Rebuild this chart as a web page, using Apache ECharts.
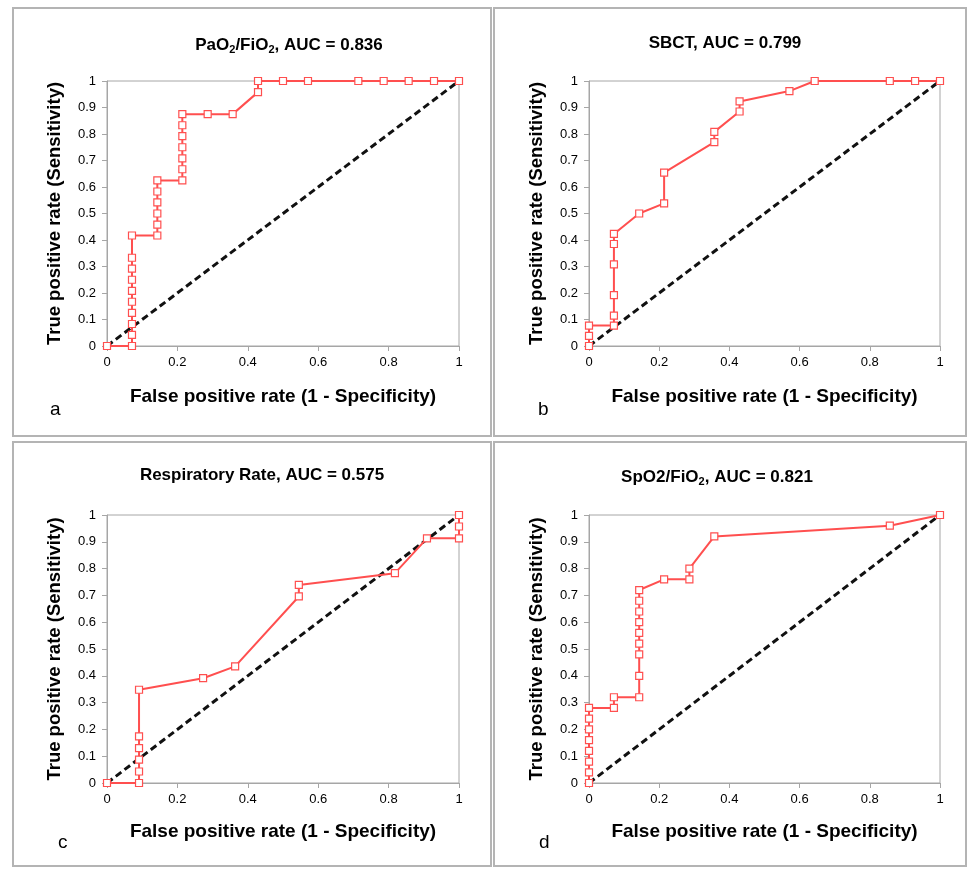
<!DOCTYPE html>
<html>
<head>
<meta charset="utf-8">
<script src="https://cdn.jsdelivr.net/npm/echarts@6/dist/echarts.min.js"></script>
<style>
html, body { margin: 0; padding: 0; background: #fff; }
#main { width: 968px; height: 869px; }
</style>
</head>
<body>
<div id="main"></div>
<script>
// ROC points, panel by panel
var fprA = [0, 0.071, 0.071, 0.071, 0.071, 0.071, 0.071, 0.071, 0.071, 0.071, 0.071, 0.143, 0.143, 0.143, 0.143, 0.143, 0.143, 0.214, 0.214, 0.214, 0.214, 0.214, 0.214, 0.214, 0.286, 0.357, 0.429, 0.429, 0.5, 0.571, 0.714, 0.786, 0.857, 0.929, 1];
var tprA = [0, 0, 0.042, 0.083, 0.125, 0.167, 0.208, 0.25, 0.292, 0.333, 0.417, 0.417, 0.458, 0.5, 0.542, 0.583, 0.625, 0.625, 0.667, 0.708, 0.75, 0.792, 0.833, 0.875, 0.875, 0.875, 0.958, 1, 1, 1, 1, 1, 1, 1, 1];

var fprB = [0, 0, 0, 0.071, 0.071, 0.071, 0.071, 0.071, 0.071, 0.143, 0.214, 0.214, 0.357, 0.357, 0.429, 0.429, 0.571, 0.643, 0.857, 0.929, 1];
var tprB = [0, 0.038, 0.077, 0.077, 0.115, 0.192, 0.308, 0.385, 0.423, 0.5, 0.538, 0.654, 0.769, 0.808, 0.885, 0.923, 0.962, 1, 1, 1, 1];

var fprC = [0, 0.091, 0.091, 0.091, 0.091, 0.091, 0.091, 0.273, 0.364, 0.545, 0.545, 0.818, 0.909, 1, 1, 1];
var tprC = [0, 0, 0.043, 0.087, 0.13, 0.174, 0.348, 0.391, 0.435, 0.696, 0.739, 0.783, 0.913, 0.913, 0.957, 1];

var fprD = [0, 0, 0, 0, 0, 0, 0, 0, 0.071, 0.071, 0.143, 0.143, 0.143, 0.143, 0.143, 0.143, 0.143, 0.143, 0.143, 0.214, 0.286, 0.286, 0.357, 0.857, 1];
var tprD = [0, 0.04, 0.08, 0.12, 0.16, 0.2, 0.24, 0.28, 0.28, 0.32, 0.32, 0.4, 0.48, 0.52, 0.56, 0.6, 0.64, 0.68, 0.72, 0.76, 0.76, 0.8, 0.92, 0.96, 1];

var titles = ['PaO{s|2}/FiO{s|2}, AUC = 0.836', 'SBCT, AUC = 0.799', 'Respiratory Rate, AUC = 0.575', 'SpO2/FiO{s|2}, AUC = 0.821'];
var letters = ['a', 'b', 'c', 'd'];
var xName = 'False positive rate (1 - Specificity)';
var yName = 'True positive rate (Sensitivity)';

var fpr = [fprA, fprB, fprC, fprD];
var tpr = [tprA, tprB, tprC, tprD];

var font = "'Liberation Sans', sans-serif";
var red = '#ff4f4f';
var gray = '#a6a6a6';

// panel layout
var grids = [
    {left: 107, top: 81, width: 352, height: 265},
    {left: 589, top: 81, width: 351, height: 265},
    {left: 107, top: 515, width: 352, height: 268},
    {left: 589, top: 515, width: 351, height: 268}
];
var boxes = [[13, 8, 478, 428], [494, 8, 472, 428], [13, 442, 478, 424], [494, 442, 472, 424]];
var titlePos = [[284, 30], [720, 30], [257, 462], [712, 462]];
var letterPos = [[50, 400], [538, 400], [58, 833], [539, 833]];

function zip(xs, ys) {
    var out = [];
    for (var i = 0; i < xs.length; i++) out.push([xs[i], ys[i]]);
    return out;
}

var option = {
    backgroundColor: '#fff',
    animation: false,
    title: [],
    grid: [],
    xAxis: [],
    yAxis: [],
    series: [],
    graphic: []
};

for (var p = 0; p < 4; p++) {
    var g = grids[p];
    option.grid.push({
        left: g.left, top: g.top, width: g.width, height: g.height,
        show: true, borderColor: gray, borderWidth: 1, backgroundColor: '#fff'
    });
    option.xAxis.push({
        type: 'value', gridIndex: p, min: 0, max: 1, interval: 0.2,
        name: xName, nameLocation: 'middle', nameGap: p < 2 ? 41 : 39,
        nameTextStyle: {fontFamily: font, fontSize: 19, fontWeight: 'bold', color: '#000'},
        axisLine: {lineStyle: {color: gray}},
        axisTick: {show: true, length: 5, lineStyle: {color: gray}},
        axisLabel: {fontFamily: font, fontSize: 13, color: '#000', margin: 10},
        splitLine: {show: false}
    });
    option.yAxis.push({
        type: 'value', gridIndex: p, min: 0, max: 1, interval: 0.1,
        name: yName, nameLocation: 'middle', nameGap: 43,
        nameTextStyle: {fontFamily: font, fontSize: 18.5, fontWeight: 'bold', color: '#000'},
        axisLine: {show: true, lineStyle: {color: gray}},
        axisTick: {show: true, length: 5, lineStyle: {color: gray}},
        axisLabel: {fontFamily: font, fontSize: 13, color: '#000', margin: 11},
        splitLine: {show: false}
    });
    option.series.push({
        type: 'line', xAxisIndex: p, yAxisIndex: p,
        data: [[0, 0], [1, 1]],
        showSymbol: false, symbol: 'none', silent: true, z: 2,
        lineStyle: {color: '#111', width: 3, type: [7, 4]}
    });
    option.series.push({
        type: 'line', xAxisIndex: p, yAxisIndex: p,
        data: zip(fpr[p], tpr[p]),
        symbol: 'rect', symbolSize: 7, showAllSymbol: true, z: 3,
        lineStyle: {color: red, width: 2},
        itemStyle: {color: '#fff', borderColor: red, borderWidth: 1.2}
    });
    option.title.push({
        text: titles[p], left: titlePos[p][0], top: titlePos[p][1], textAlign: 'center',
        textStyle: {
            fontFamily: font, fontSize: 17, fontWeight: 'bold', color: '#000',
            rich: {
                s: {fontFamily: font, fontSize: 11, fontWeight: 'bold', color: '#000', padding: [9, 0, 0, 0]}
            }
        }
    });
    option.graphic.push({
        type: 'rect', z: -1, silent: true,
        shape: {x: boxes[p][0], y: boxes[p][1], width: boxes[p][2], height: boxes[p][3]},
        style: {fill: 'none', stroke: '#b4b4b4', lineWidth: 2}
    });
    option.graphic.push({
        type: 'text', left: letterPos[p][0], top: letterPos[p][1],
        style: {text: letters[p], fontFamily: font, fontSize: 19, fill: '#000'}
    });
}

var chart = echarts.init(document.getElementById('main'));
chart.setOption(option);
window.onresize = chart.resize;
</script>
</body>
</html>
